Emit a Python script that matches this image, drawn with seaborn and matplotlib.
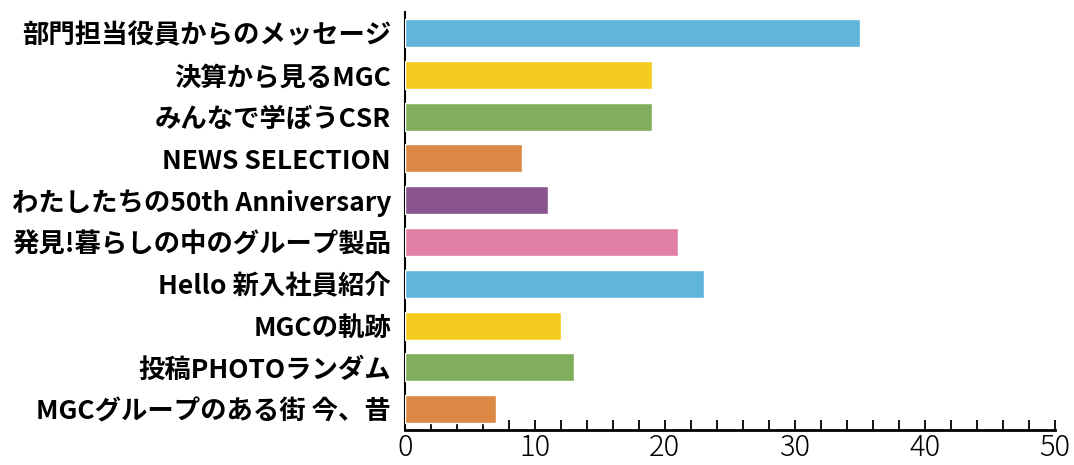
import matplotlib
matplotlib.use("Agg")
import matplotlib.pyplot as plt
import seaborn as sns
import pandas as pd
import numpy as np
from matplotlib.ticker import MultipleLocator

categories = [
    "部門担当役員からのメッセージ",
    "決算から見るMGC",
    "みんなで学ぼうCSR",
    "NEWS SELECTION",
    "わたしたちの50th Anniversary",
    "発見!暮らしの中のグループ製品",
    "Hello 新入社員紹介",
    "MGCの軌跡",
    "投稿PHOTOランダム",
    "MGCグループのある街 今、昔",
]
votes = [35, 19, 19, 9, 11, 21, 23, 12, 13, 7]
bar_colors = ["#62B5DA", "#F3CB1E", "#80AE5D", "#DB8845", "#8A548F",
              "#E17FA6", "#62B5DA", "#F3CB1E", "#80AE5D", "#DB8845"]

sns.set_style("white")
plt.rcParams['font.family'] = ['Noto Sans CJK JP', 'DejaVu Sans']

df = pd.DataFrame({"category": categories, "votes": votes})

fig = plt.figure(figsize=(10.74, 4.65), dpi=100)
ax = fig.add_axes([0.377, 0.075, 0.605, 0.899])

sns.barplot(data=df, x="votes", y="category", hue="category",
            palette=bar_colors, legend=False, width=0.67,
            saturation=1, ax=ax, orient="h")

ax.set_xlim(0, 50)
ax.set_xlabel("")
ax.set_ylabel("")
ax.xaxis.set_major_locator(MultipleLocator(10))
ax.xaxis.set_minor_locator(MultipleLocator(2))
ax.tick_params(axis="x", which="both", direction="in", length=7, width=1.3,
               bottom=True, pad=2, labelsize=21, colors="black")
ax.tick_params(axis="y", length=0, pad=10, labelsize=19, labelcolor="black")
for lbl in ax.get_yticklabels():
    lbl.set_fontweight("bold")
for lbl in ax.get_xticklabels():
    lbl.set_fontweight("light")

for side in ["top", "right"]:
    ax.spines[side].set_visible(False)
ax.spines["left"].set_color("black")
ax.spines["left"].set_linewidth(1.5)
ax.spines["left"].set_zorder(0.5)
ax.spines["bottom"].set_color("black")
ax.spines["bottom"].set_linewidth(2)

fig.savefig("out.png", dpi=100)
